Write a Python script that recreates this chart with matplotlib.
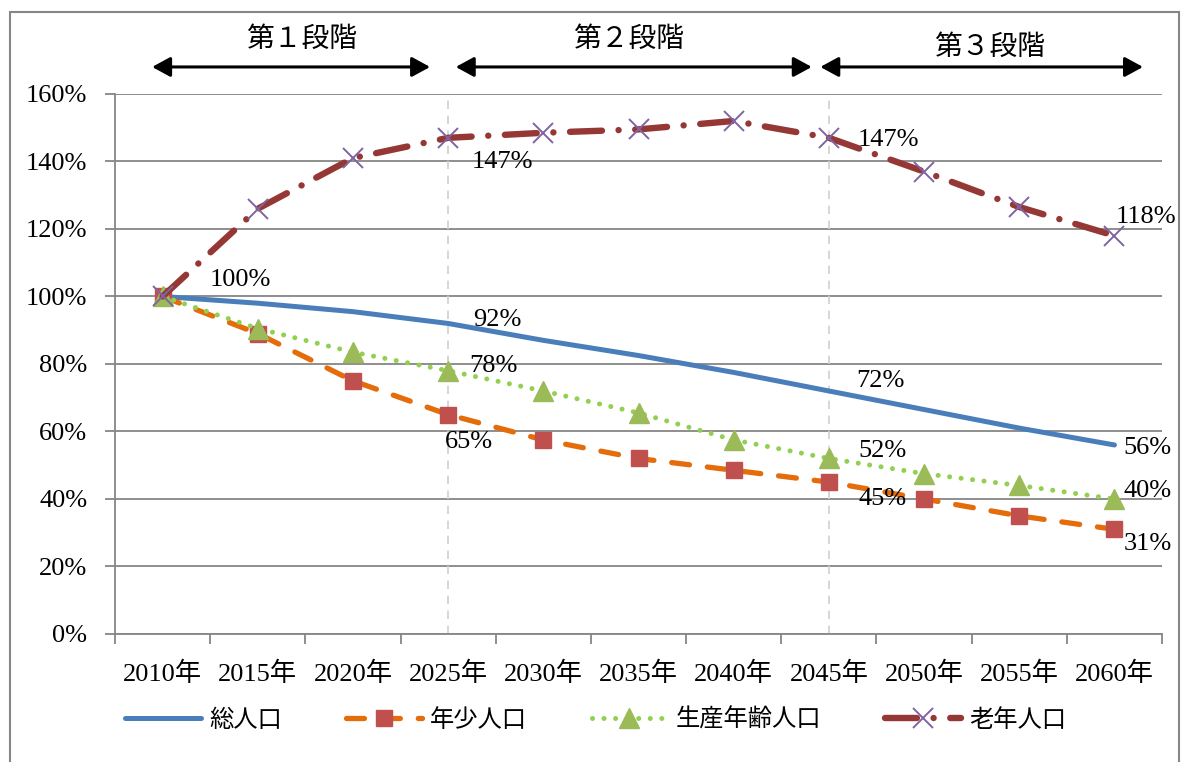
import matplotlib
matplotlib.use("Agg")
import matplotlib.pyplot as plt
from matplotlib.patches import Rectangle

plt.rcParams['font.family'] = ['Liberation Serif', 'Noto Sans CJK JP']

years = ["2010年", "2015年", "2020年", "2025年", "2030年", "2035年",
         "2040年", "2045年", "2050年", "2055年", "2060年"]
total = [100, 98, 95.5, 92, 87, 82.5, 77.5, 72, 66.5, 61, 56]
young = [100, 89, 75, 65, 57.5, 52, 48.5, 45, 40, 35, 31]
working = [100, 90.5, 83.5, 78, 72, 65.5, 57.5, 52, 47.5, 44, 40]
elderly = [100, 126, 141, 147, 148.5, 149.5, 152, 147, 137, 126.5, 118]
stages = ["第１段階", "第２段階", "第３段階"]

x = list(range(len(years)))

fig = plt.figure(figsize=(11.82, 7.62), dpi=100)
ax = fig.add_axes([0.0973, 0.168, 0.8858, 0.7087])

# 総人口
ax.plot(x, total, color="#4A7EBB", lw=3.6, solid_capstyle="round",
        label="総人口", zorder=3)
# 年少人口
ax.plot(x, young, color="#E46C0A", lw=3.8, dashes=(3.4, 3.4),
        dash_capstyle="round", marker="s", ms=12, mfc="#C0504D",
        mec="#C0504D", label="年少人口", zorder=4)
# 生産年齢人口
ax.plot(x, working, color="#92D050", lw=3.6, dashes=(0.01, 2.3),
        dash_capstyle="round", marker="^", ms=14, mfc="#9BBB59",
        mec="#9BBB59", label="生産年齢人口", zorder=5)
# 老年人口
ax.plot(x, elderly, color="#953735", lw=4.6, dashes=(5.0, 2.6, 0.01, 2.6),
        dash_capstyle="round", marker="x", ms=14, mew=1.4, mec="#8064A2",
        label="老年人口", zorder=6)

# data labels (offsets in pixels)
def put(series, i, dx, dy):
    ax.annotate(f"{series[i]:.0f}%", (x[i], series[i]), xytext=(dx, dy),
                textcoords="offset pixels", ha="center", va="center",
                fontsize=19, zorder=8)

put(total, 0, 78, 16)
put(total, 3, 49, 3)
put(total, 7, 52, 10)
put(total, 10, 33, -3)
put(young, 3, 21, -27)
put(young, 7, 54, -17)
put(young, 10, 33, -15)
put(working, 3, 45, 5)
put(working, 7, 54, 7)
put(working, 10, 33, 8)
put(elderly, 3, 54, -24)
put(elderly, 7, 60, -2)
put(elderly, 10, 32, 19)

# stage boundaries
for b in (3, 7):
    ax.axvline(b, color="#D0D0D0", lw=1.2, ls=(0, (5, 4)), zorder=1)

arrows = [(-0.11, 2.81), (3.08, 6.82), (6.91, 10.3)]
text_pos = [(1.46, 1.10), (4.90, 1.10), (8.69, 1.085)]
for name, (a, b), (tx, ty) in zip(stages, arrows, text_pos):
    ax.annotate("", xy=(b, 1.05), xytext=(a, 1.05),
                xycoords=("data", "axes fraction"),
                textcoords=("data", "axes fraction"),
                arrowprops=dict(arrowstyle="<|-|>,head_length=0.55,head_width=0.3",
                                mutation_scale=20, lw=2.2, color="black",
                                shrinkA=0, shrinkB=0),
                annotation_clip=False)
    ax.text(tx, ty, name, transform=ax.get_xaxis_transform(),
            ha="center", va="center", fontsize=20)

ax.set_xlim(-0.5, 10.5)
ax.set_ylim(0, 160)
ax.set_yticks(range(0, 161, 20))
ax.set_yticklabels([f"{v}%" for v in range(0, 161, 20)], fontsize=19)
ax.set_xticks(x)
ax.set_xticklabels(years, fontsize=19)
ax.set_xticks([i - 0.5 for i in range(len(years) + 1)], minor=True)
ax.tick_params(axis="x", which="major", length=0, pad=20)
ax.tick_params(axis="x", which="minor", length=7, width=1.3, color="#868686")
ax.tick_params(axis="y", length=7, width=1.3, color="#868686", pad=13)
ax.grid(axis="y", color="#868686", lw=1.3, zorder=0)
ax.set_axisbelow(True)
for s in ("top", "right"):
    ax.spines[s].set_visible(False)
for s in ("left", "bottom"):
    ax.spines[s].set_color("#868686")
    ax.spines[s].set_linewidth(1.3)

leg = fig.legend(loc="center left", bbox_to_anchor=(0.106, 0.055), ncol=4,
                 frameon=False, fontsize=17.5, handlelength=3.1,
                 handletextpad=0.35, columnspacing=2.65, numpoints=1,
                 borderpad=0, borderaxespad=0)

fig.patches.append(Rectangle((10 / 1182, -0.01), 1169 / 1182, 1.002 - 6 / 762,
                             transform=fig.transFigure, fill=False,
                             edgecolor="#868686", lw=1.5))

fig.savefig("out.png", dpi=100)
